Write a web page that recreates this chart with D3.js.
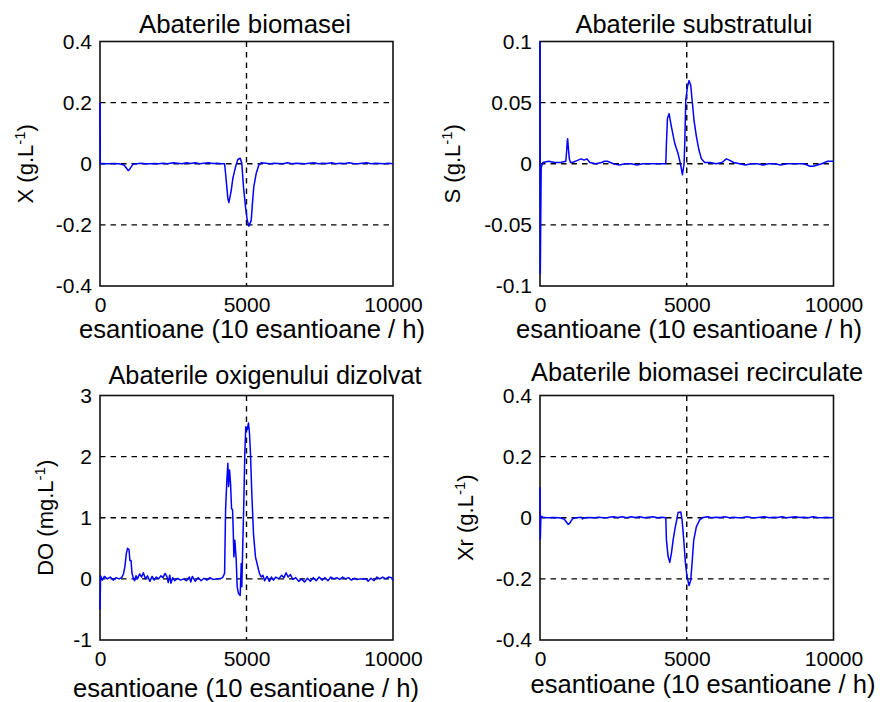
<!DOCTYPE html>
<html><head><meta charset="utf-8">
<script src="https://cdn.jsdelivr.net/npm/d3@7"></script>
<style>
body{margin:0;background:#fff}
svg{display:block}
text{font-family:"Liberation Sans",Arial,sans-serif;fill:#000}
</style>
</head><body>
<svg id="chart" width="880" height="702"></svg>
<script>
// ---------------- data ----------------
const xTicks = [0, 5000, 10000];
const xTickLabels = ["0", "5000", "10000"];
const xLabel = "esantioane (10 esantioane / h)";
const titles = ["Abaterile biomasei", "Abaterile substratului", "Abaterile oxigenului dizolvat", "Abaterile biomasei recirculate"];
const yLabelMain = ["X (g.L", "S (g.L", "DO (mg.L", "Xr (g.L"];
const yLabelSup = "-1";
const yLabelEnd = ")";

const yTicksX = [-0.4, -0.2, 0, 0.2, 0.4];
const yTickLabelsX = ["-0.4", "-0.2", "0", "0.2", "0.4"];
const yTicksS = [-0.1, -0.05, 0, 0.05, 0.1];
const yTickLabelsS = ["-0.1", "-0.05", "0", "0.05", "0.1"];
const yTicksDO = [-1, 0, 1, 2, 3];
const yTickLabelsDO = ["-1", "0", "1", "2", "3"];
const yTicksXr = [-0.4, -0.2, 0, 0.2, 0.4];
const yTickLabelsXr = ["-0.4", "-0.2", "0", "0.2", "0.4"];

// [sample, deviation]
const seriesX = [[0,0.2],[10,0],[80,0.001],[250,0],[450,0.001],[650,0],[820,-0.004],[900,-0.014],[960,-0.022],[1000,-0.02],[1050,-0.012],[1130,-0.002],[1250,0],[1400,0.002],[1550,0],[1700,0],[1850,0.001],[2000,0],[2150,0.002],[2300,0],[2500,0.003],[2650,0.002],[2800,0],[2950,0.003],[3100,0.001],[3250,0.003],[3400,0],[3550,0.002],[3700,0.003],[3850,0.001],[4000,0.002],[4150,0],[4252,0],[4286,-0.032],[4364,-0.114],[4398,-0.127],[4480,-0.087],[4534,-0.048],[4626,-0.010],[4704,0.014],[4786,0.018],[4840,0.001],[4898,-0.076],[4966,-0.141],[5024,-0.184],[5078,-0.204],[5160,-0.186],[5194,-0.141],[5248,-0.076],[5330,-0.032],[5418,-0.005],[5500,0.003],[5650,0.002],[5800,0],[5950,0.002],[6100,0.001],[6250,0],[6400,0.003],[6550,0],[6700,0.002],[6850,0.001],[7000,0],[7150,0.002],[7300,0.003],[7450,0],[7600,0.002],[7750,0.001],[7900,0.003],[8050,0],[8200,0.002],[8350,0.001],[8500,0.003],[8650,0.001],[8800,0],[8950,0.002],[9100,0.003],[9250,0],[9400,0.002],[9550,0.001],[9700,0],[9850,0.002],[10000,0]];

const seriesS = [[0,0.1],[10,-0.09],[40,-0.003],[100,0.001],[300,0.002],[500,0.001],[700,0.001],[880,0.002],[907,0.01],[930,0.019],[942,0.0205],[970,0.012],[1000,0.004],[1040,0.001],[1100,0.001],[1300,0.003],[1400,0.004],[1500,0.003],[1600,0.004],[1700,0.001],[1900,0],[2100,0.001],[2200,0.002],[2300,0.002],[2500,0],[2700,-0.001],[2900,0],[3100,0],[3300,-0.001],[3500,0],[3700,0],[3900,0],[4100,0],[4250,0],[4286,0],[4308,0.0165],[4342,0.037],[4398,0.041],[4456,0.033],[4512,0.026],[4592,0.0165],[4704,0.0083],[4785,0],[4853,-0.009],[4909,0],[4932,0.0165],[4966,0.052],[5024,0.063],[5078,0.068],[5136,0.064],[5180,0.053],[5248,0.0355],[5330,0.022],[5418,0.011],[5500,0.004],[5610,0.001],[5800,0.001],[6000,0],[6200,0.001],[6350,0.004],[6450,0.003],[6600,0.001],[6800,0],[7000,-0.001],[7200,0],[7400,0],[7600,-0.001],[7800,0],[8000,0],[8200,-0.001],[8400,0],[8600,0],[8800,0],[9000,0],[9200,-0.002],[9300,-0.002],[9450,-0.001],[9600,0],[9800,0.002],[9900,0.002],[10000,0.002]];

const seriesDO = [[0,-0.5],[20,0.05],[80,-0.02],[150,0.04],[250,0],[350,0.03],[450,-0.02],[550,0.02],[650,0],[740,0.02],[800,0.08],[850,0.2],[900,0.42],[940,0.5],[990,0.48],[1020,0.3],[1060,0.3],[1090,0.1],[1130,0.02],[1180,-0.03],[1230,0.05],[1280,0],[1350,0.08],[1420,0.03],[1480,0.1],[1550,0],[1620,0.05],[1700,-0.04],[1780,0.04],[1850,-0.02],[1920,0.03],[2000,0],[2080,0.05],[2150,0.02],[2220,0.09],[2280,0.04],[2330,-0.06],[2380,0.06],[2420,-0.07],[2480,0.02],[2550,-0.03],[2650,0.01],[2750,-0.02],[2850,0],[2950,-0.03],[3050,0.03],[3100,-0.05],[3150,0.04],[3250,-0.04],[3350,0.02],[3450,-0.03],[3550,0.01],[3650,-0.02],[3750,0.02],[3850,-0.01],[4000,0],[4150,0.01],[4195,0.03],[4252,0.09],[4286,1.13],[4330,1.62],[4364,1.89],[4388,1.51],[4422,1.78],[4456,1.56],[4490,1.15],[4524,1.13],[4547,0.8],[4569,0.36],[4603,0.63],[4649,0.31],[4682,-0.13],[4728,-0.24],[4785,-0.27],[4820,0.25],[4840,-0.13],[4874,0.58],[4908,1.24],[4942,2.05],[4976,2.49],[5024,2.44],[5068,2.55],[5102,2.38],[5136,2.05],[5181,1.4],[5238,0.74],[5306,0.36],[5385,0.2],[5442,0.09],[5500,0.03],[5560,0.06],[5620,-0.03],[5700,0.04],[5780,-0.04],[5850,0.03],[5920,-0.02],[6000,0.03],[6100,0],[6200,0.06],[6280,0.02],[6350,0.1],[6420,0.03],[6500,0.07],[6580,-0.01],[6680,0.02],[6780,-0.04],[6880,0],[6980,-0.05],[7080,0.01],[7180,-0.04],[7280,0.02],[7380,-0.03],[7480,0.03],[7580,-0.02],[7680,0.02],[7780,-0.03],[7880,0.03],[7980,0],[8080,0.02],[8180,-0.01],[8280,0.03],[8380,0],[8480,0.02],[8580,-0.02],[8680,0.01],[8780,-0.01],[8880,0],[8980,0],[9080,0],[9150,-0.04],[9250,0.01],[9350,-0.03],[9450,0.03],[9550,0],[9650,0.03],[9750,0],[9850,0.03],[9950,0.02],[10000,-0.03]];

const seriesXr = [[0,0.1],[10,-0.07],[30,0.005],[100,0.002],[250,0],[450,0.001],[650,0],[820,-0.004],[900,-0.014],[963,-0.022],[1010,-0.018],[1060,-0.01],[1130,-0.002],[1250,0],[1400,0.002],[1450,-0.004],[1500,0],[1700,0.001],[1850,0],[2000,0.002],[2150,0],[2300,0.001],[2500,0.003],[2650,0.001],[2800,0.003],[2950,0],[3100,0.003],[3250,0.001],[3400,0.003],[3550,0],[3700,0.002],[3850,0.003],[4000,0],[4150,0.002],[4286,0],[4308,-0.073],[4365,-0.127],[4422,-0.146],[4478,-0.116],[4535,-0.073],[4592,-0.04],[4648,-0.012],[4705,0.017],[4796,0.019],[4841,-0.007],[4898,-0.073],[4955,-0.149],[5011,-0.193],[5079,-0.222],[5136,-0.204],[5181,-0.149],[5238,-0.073],[5329,-0.029],[5442,-0.007],[5555,0.001],[5700,0.003],[5850,0],[6000,0.002],[6150,0.001],[6300,0.003],[6450,0],[6600,0.002],[6750,0],[6900,0.001],[7050,0.003],[7200,0.001],[7350,0],[7500,0.002],[7650,0.003],[7800,0],[7950,0.002],[8100,0.001],[8250,0.003],[8400,0],[8550,0.002],[8700,0.003],[8850,0.001],[9000,0.002],[9150,0],[9300,0.003],[9450,0.001],[9600,0],[9750,0.002],[9900,0],[10000,0.001]];

// ---------------- layout ----------------
const panels = [
  {series: seriesX,  yTicks: yTicksX,  yTickLabels: yTickLabelsX,  yDomain: [-0.4, 0.4],
   left: 100, top: 41.5, right: 393, bottom: 286,
   titleX: 245, titleY: 33, titleW: 212, xlabX: 252, xlabY: 338, xlabW: 346, ylabX: 33},
  {series: seriesS,  yTicks: yTicksS,  yTickLabels: yTickLabelsS,  yDomain: [-0.1, 0.1],
   left: 540, top: 41.5, right: 833.5, bottom: 286,
   titleX: 694, titleY: 33, titleW: 237, xlabX: 689, xlabY: 338, xlabW: 346, ylabX: 460},
  {series: seriesDO, yTicks: yTicksDO, yTickLabels: yTickLabelsDO, yDomain: [-1, 3],
   left: 100, top: 395.5, right: 393, bottom: 640,
   titleX: 265, titleY: 384, titleW: 313, xlabX: 246, xlabY: 697, xlabW: 346, ylabX: 53},
  {series: seriesXr, yTicks: yTicksXr, yTickLabels: yTickLabelsXr, yDomain: [-0.4, 0.4],
   left: 540, top: 395.5, right: 833.5, bottom: 640,
   titleX: 697, titleY: 381, titleW: 332, xlabX: 703, xlabY: 692.5, xlabW: 345, ylabX: 473}
];

const svg = d3.select("#chart");
svg.append("rect").attr("width", 880).attr("height", 702).attr("fill", "#fff");

panels.forEach((p, i) => {
  const x = d3.scaleLinear().domain([0, 10000]).range([p.left, p.right]);
  const y = d3.scaleLinear().domain(p.yDomain).range([p.bottom, p.top]);
  const g = svg.append("g");

  g.append("rect").attr("x", p.left).attr("y", p.top)
    .attr("width", p.right - p.left).attr("height", p.bottom - p.top).attr("fill", "#fff");

  // grid lines (interior ticks)
  const gridY = p.yTicks.filter(v => v > p.yDomain[0] && v < p.yDomain[1]);
  g.selectAll(".gy").data(gridY).enter().append("line")
    .attr("x1", p.left).attr("x2", p.right)
    .attr("y1", d => y(d)).attr("y2", d => y(d))
    .attr("stroke", "#000").attr("stroke-width", 1.4).attr("stroke-dasharray", "5.5,5");
  const gridX = xTicks.filter(v => v > 0 && v < 10000);
  g.selectAll(".gx").data(gridX).enter().append("line")
    .attr("y1", p.top).attr("y2", p.bottom)
    .attr("x1", d => x(d)).attr("x2", d => x(d))
    .attr("stroke", "#000").attr("stroke-width", 1.4).attr("stroke-dasharray", "5.5,5");

  // box
  g.append("rect").attr("x", p.left).attr("y", p.top)
    .attr("width", p.right - p.left).attr("height", p.bottom - p.top)
    .attr("fill", "none").attr("stroke", "#111").attr("stroke-width", 1.6);

  // data line
  const clipId = "clip" + i;
  svg.append("clipPath").attr("id", clipId).append("rect")
    .attr("x", p.left - 1).attr("y", p.top - 1)
    .attr("width", p.right - p.left + 2).attr("height", p.bottom - p.top + 2);
  const line = d3.line().x(d => x(d[0])).y(d => y(d[1]));
  g.append("path").datum(p.series)
    .attr("clip-path", "url(#" + clipId + ")")
    .attr("d", line).attr("fill", "none")
    .attr("stroke", "#0000ff").attr("stroke-width", 1.5).attr("stroke-linejoin", "round");

  // axes (labels only)
  const ax = g.append("g").attr("transform", `translate(0,${p.bottom})`)
    .call(d3.axisBottom(x).tickValues(xTicks).tickFormat((d, k) => xTickLabels[k]).tickSize(0).tickPadding(11));
  ax.select(".domain").remove();
  ax.selectAll("text").attr("font-size", 21).attr("font-family", "Liberation Sans, Arial, sans-serif").attr("fill", "#000");

  const ay = g.append("g").attr("transform", `translate(${p.left},0)`)
    .call(d3.axisLeft(y).tickValues(p.yTicks).tickFormat((d, k) => p.yTickLabels[k]).tickSize(0).tickPadding(8));
  ay.select(".domain").remove();
  ay.selectAll("text").attr("font-size", 21).attr("font-family", "Liberation Sans, Arial, sans-serif").attr("fill", "#000");

  // title
  g.append("text").attr("x", p.titleX).attr("y", p.titleY)
    .attr("text-anchor", "middle").attr("font-size", 25)
    .attr("textLength", p.titleW).attr("lengthAdjust", "spacingAndGlyphs").text(titles[i]);

  // x label
  g.append("text").attr("x", p.xlabX).attr("y", p.xlabY)
    .attr("text-anchor", "middle").attr("font-size", 25)
    .attr("textLength", p.xlabW).attr("lengthAdjust", "spacingAndGlyphs").text(xLabel);

  // y label
  const yl = g.append("text")
    .attr("transform", `translate(${p.ylabX},${(p.top + p.bottom) / 2}) rotate(-90)`)
    .attr("text-anchor", "middle").attr("font-size", 22);
  yl.append("tspan").text(yLabelMain[i]);
  yl.append("tspan").attr("font-size", 15).attr("dy", -8).text(yLabelSup);
  yl.append("tspan").attr("dy", 8).text(yLabelEnd);
});
</script>
</body></html>
